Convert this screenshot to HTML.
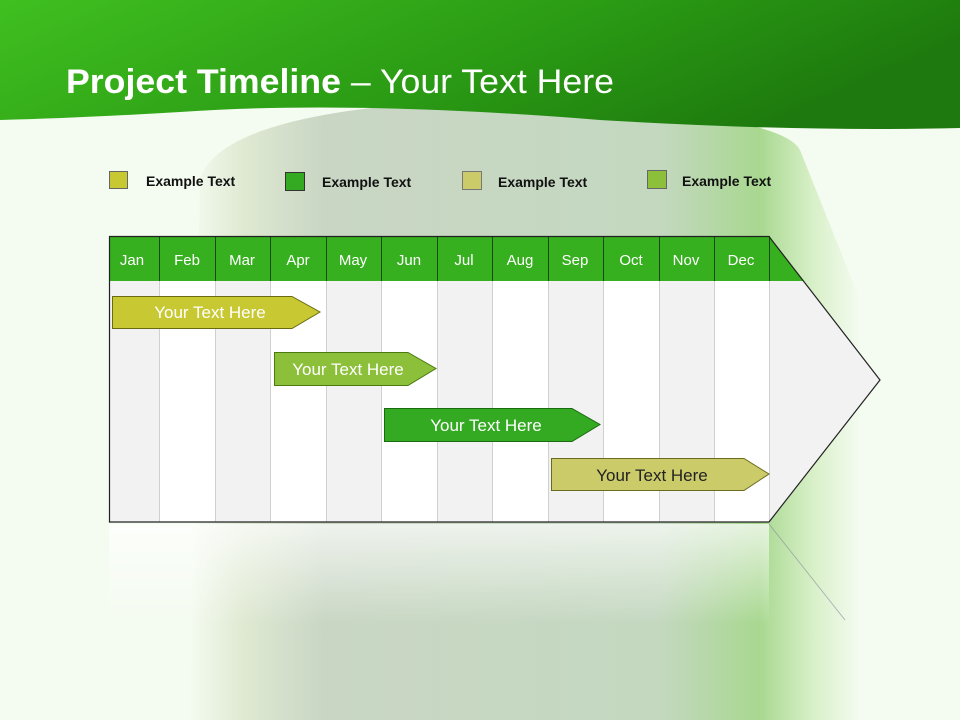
<!DOCTYPE html>
<html><head><style>
body{margin:0;width:960px;height:720px;overflow:hidden;font-family:"Liberation Sans",sans-serif}
</style></head><body>
<svg width="960" height="720" xmlns="http://www.w3.org/2000/svg">
<defs>
<linearGradient id="top" x1="0" y1="0" x2="1" y2="0.3">
<stop offset="0" stop-color="#40c020"/><stop offset="0.6" stop-color="#2a9a14"/><stop offset="1" stop-color="#1e7a0e"/>
</linearGradient>
<linearGradient id="col" x1="0" y1="0" x2="1" y2="0">
<stop offset="0" stop-color="#f4fbf0"/><stop offset="0.08" stop-color="#dfe9d2"/><stop offset="0.2" stop-color="#c9d6c4"/><stop offset="0.7" stop-color="#c4d8c0"/><stop offset="0.85" stop-color="#a8d890"/><stop offset="0.93" stop-color="#d8f0c8"/><stop offset="1" stop-color="#f4fbf0"/>
</linearGradient>
<linearGradient id="refl" x1="0" y1="0" x2="0" y2="1">
<stop offset="0" stop-color="#ffffff" stop-opacity="0.7"/><stop offset="1" stop-color="#ffffff" stop-opacity="0"/>
</linearGradient>
</defs>
<rect width="960" height="720" fill="#f4fbf0"/>
<path d="M190 720 L200 180 Q220 110 480 100 Q780 110 800 150 L860 300 L860 720 Z" fill="url(#col)"/>
<path d="M0 0 H960 V128 Q800 132 600 120 Q350 100 180 112 Q80 118 0 120 Z" fill="url(#top)"/>
<text x="66" y="93" font-size="34" fill="#fff" textLength="548" lengthAdjust="spacingAndGlyphs"><tspan font-weight="bold">Project Timeline</tspan> – Your Text Here</text>
<g font-size="14" font-weight="bold" fill="#111">
<rect x="109.5" y="171.5" width="18" height="17" fill="#c8c832" stroke="#666"/><text x="146" y="186">Example Text</text>
<rect x="285.5" y="172.5" width="19" height="18" fill="#33aa22" stroke="#333"/><text x="322" y="187">Example Text</text>
<rect x="462.5" y="171.5" width="19" height="18" fill="#cbcb6a" stroke="#777"/><text x="498" y="187">Example Text</text>
<rect x="647.5" y="170.5" width="19" height="18" fill="#8dc03a" stroke="#666"/><text x="682" y="186">Example Text</text>
</g>
<rect x="109" y="524" width="660" height="100" fill="url(#refl)"/>
<line x1="769" y1="524" x2="845" y2="620" stroke="#889" stroke-width="1" opacity="0.6"/>
<path d="M109 236 H769 L880 380 L769 522 H109 Z" fill="#f2f2f2"/>
<g fill="#fff">
<rect x="159" y="281" width="56" height="241"/><rect x="270" y="281" width="56" height="241"/><rect x="381" y="281" width="56" height="241"/><rect x="492" y="281" width="56" height="241"/><rect x="603" y="281" width="56" height="241"/><rect x="714" y="281" width="55" height="241"/>
</g>
<g stroke="#d0d0d0" stroke-width="1">
<line x1="159.5" y1="281" x2="159.5" y2="522"/><line x1="215.5" y1="281" x2="215.5" y2="522"/><line x1="270.5" y1="281" x2="270.5" y2="522"/><line x1="326.5" y1="281" x2="326.5" y2="522"/><line x1="381.5" y1="281" x2="381.5" y2="522"/><line x1="437.5" y1="281" x2="437.5" y2="522"/><line x1="492.5" y1="281" x2="492.5" y2="522"/><line x1="548.5" y1="281" x2="548.5" y2="522"/><line x1="603.5" y1="281" x2="603.5" y2="522"/><line x1="659.5" y1="281" x2="659.5" y2="522"/><line x1="714.5" y1="281" x2="714.5" y2="522"/><line x1="769.5" y1="281" x2="769.5" y2="522"/>
</g>
<path d="M109 236 H769 L804 281 H109 Z" fill="#36b01e"/>
<g stroke="#1a4a10" stroke-width="1">
<line x1="159.5" y1="236" x2="159.5" y2="281"/><line x1="215.5" y1="236" x2="215.5" y2="281"/><line x1="270.5" y1="236" x2="270.5" y2="281"/><line x1="326.5" y1="236" x2="326.5" y2="281"/><line x1="381.5" y1="236" x2="381.5" y2="281"/><line x1="437.5" y1="236" x2="437.5" y2="281"/><line x1="492.5" y1="236" x2="492.5" y2="281"/><line x1="548.5" y1="236" x2="548.5" y2="281"/><line x1="603.5" y1="236" x2="603.5" y2="281"/><line x1="659.5" y1="236" x2="659.5" y2="281"/><line x1="714.5" y1="236" x2="714.5" y2="281"/><line x1="769.5" y1="236" x2="769.5" y2="281"/>
</g>
<path d="M109.5 236.5 H769 L880 380 L769 522 H109.5 Z" fill="none" stroke="#222" stroke-width="1.2"/>
<g font-size="15" fill="#fff" text-anchor="middle">
<text x="132" y="265">Jan</text><text x="187" y="265">Feb</text><text x="242" y="265">Mar</text><text x="298" y="265">Apr</text><text x="353" y="265">May</text><text x="409" y="265">Jun</text><text x="464" y="265">Jul</text><text x="520" y="265">Aug</text><text x="575" y="265">Sep</text><text x="631" y="265">Oct</text><text x="686" y="265">Nov</text><text x="741" y="265">Dec</text>
</g>
<g font-size="17" text-anchor="middle">
<path d="M112.5 296.5 H292 L320 312 L292 328.5 H112.5 Z" fill="#c8c832" stroke="#6a6a10"/>
<text x="210" y="318" fill="#fff">Your  Text Here</text>
<path d="M274.5 352.5 H408 L436 368.5 L408 385.5 H274.5 Z" fill="#8dc03a" stroke="#4a7a10"/>
<text x="348" y="375" fill="#fff">Your  Text Here</text>
<path d="M384.5 408.5 H572 L600 424.5 L572 441.5 H384.5 Z" fill="#33aa22" stroke="#1a6a10"/>
<text x="486" y="431" fill="#fff">Your  Text Here</text>
<path d="M551.5 458.5 H744 L769 474 L744 490.5 H551.5 Z" fill="#cbcb6a" stroke="#6a6a20"/>
<text x="652" y="481" fill="#222">Your  Text Here</text>
</g>
</svg>
</body></html>
